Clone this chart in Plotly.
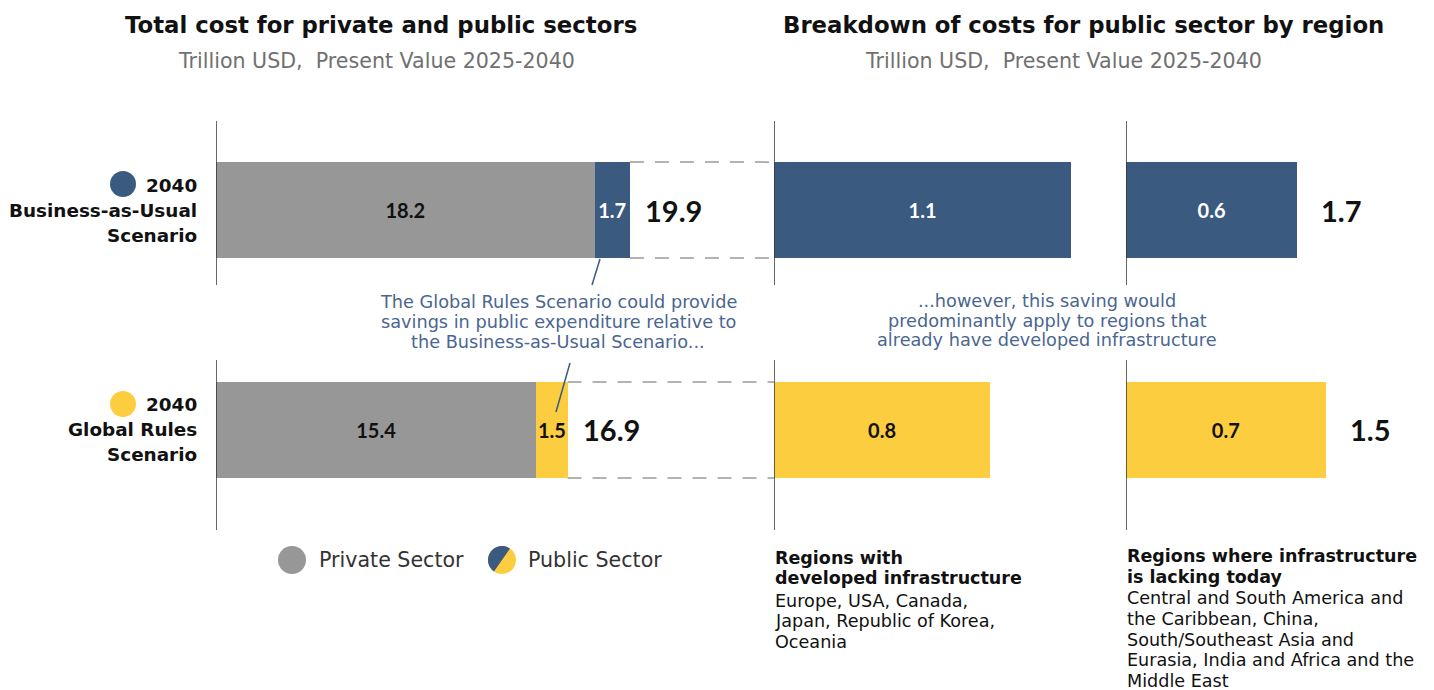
import numpy as np
import plotly.graph_objects as go

# ==========================================================
# Data (trillion USD, present value 2025-2040)
# ==========================================================

scenarios = ["Global Rules", "Business-as-Usual"]
scenario_labels = [
    ["2040", "Global Rules", "Scenario"],
    ["2040", "Business-as-Usual", "Scenario"],
]
private_sector = [15.4, 18.2]
public_sector = [1.5, 1.7]
public_developed = [0.8, 1.1]
public_lacking = [0.7, 0.6]

GRAY = "#979797"
NAVY = "#3A5A80"
YELLOW = "#FDCD40"
NOTE = "#4A6690"
scen_colors = [YELLOW, NAVY]
text_colors = ["#111111", "#FFFFFF"]

FONT = "DejaVu Sans"
NUM_FONT = "Lato"

# page is drawn with an 8px body margin, so the figure is placed at (8, 8)
OFF = 8
W, H = 1434 - OFF, 690 - OFF
TOP, BOT = 121 - OFF, 530 - OFF
BAR_W = 0.436

ypos = list(range(len(scenarios)))
totals = [round(a + b, 1) for a, b in zip(private_sector, public_sector)]
public_totals = [round(a + b, 1) for a, b in zip(public_developed, public_lacking)]


def fx(p):
    return (p - OFF) / W


def fy(p):
    return (BOT - (p - OFF)) / (BOT - TOP)


# panel geometry
dom1 = [fx(216), fx(774)]
dom2 = [fx(774), fx(1110)]
dom3 = [fx(1126), 1.0]
rng1 = [0, 558 / 20.8]
rng2 = [0, 336 / 270]
rng3 = [0, 308 / 285]
yrng = [-0.455, 1.405]


def x1_to_paper(v):
    return dom1[0] + (v - rng1[0]) / (rng1[1] - rng1[0]) * (dom1[1] - dom1[0])


fig = go.Figure()

# ==========================================================
# Bars
# ==========================================================

bar_font = dict(family=NUM_FONT, size=20)


def bar_trace(vals, colors, tcolors, xa):
    return go.Bar(
        x=vals,
        y=ypos,
        orientation="h",
        width=BAR_W,
        marker=dict(color=colors, line=dict(width=0)),
        texttemplate="<b>%{x:.1f}</b>",
        textposition="inside",
        insidetextanchor="middle",
        textangle=0,
        constraintext="none",
        textfont=dict(bar_font, color=tcolors),
        hoverinfo="skip",
        xaxis=xa,
        yaxis="y",
    )


fig.add_trace(bar_trace(private_sector, GRAY, "#111111", "x"))
fig.add_trace(bar_trace(public_sector, scen_colors, text_colors, "x"))
fig.add_trace(bar_trace(public_developed, scen_colors, text_colors, "x2"))
fig.add_trace(bar_trace(public_lacking, scen_colors, text_colors, "x3"))

# ==========================================================
# Axis lines and connectors
# ==========================================================

shapes = []

for xr in ["x", "x2", "x3"]:
    for y0, y1 in [(yrng[1], 1 - 75 / 220), (70 / 220, yrng[0])]:
        shapes.append(
            dict(
                type="line", xref=xr, yref="y",
                x0=0, x1=0, y0=y0, y1=y1,
                line=dict(color="#333333", width=1.5),
            )
        )

for i, t in enumerate(totals):
    for edge in [-BAR_W / 2, BAR_W / 2]:
        shapes.append(
            dict(
                type="line", xref="paper", yref="y",
                x0=x1_to_paper(t), x1=dom2[0],
                y0=ypos[i] + edge, y1=ypos[i] + edge,
                line=dict(color="#9A9A9A", width=1.5, dash="14px,11px"),
                layer="below",
            )
        )

# leader lines for the note
for (xa, ya), (xb, yb) in [((600, 259), (592, 285)), ((570, 363), (556, 412))]:
    shapes.append(
        dict(
            type="line", xref="paper", yref="paper",
            x0=fx(xa), x1=fx(xb), y0=fy(ya), y1=fy(yb),
            line=dict(color=NAVY, width=1.5),
        )
    )

# scenario dots next to y labels
for i, c in enumerate(scen_colors):
    shapes.append(
        dict(
            type="circle", xref="paper", yref="y",
            xsizemode="pixel", ysizemode="pixel",
            xanchor=fx(123), yanchor=ypos[i],
            x0=-13, x1=13, y0=13, y1=39,
            fillcolor=c, line=dict(width=0),
        )
    )

# legend glyphs
for cx, col in [(292, GRAY), (502, YELLOW)]:
    shapes.append(
        dict(
            type="circle", xref="paper", yref="paper",
            xsizemode="pixel", ysizemode="pixel",
            xanchor=fx(cx), yanchor=fy(560),
            x0=-14, x1=14, y0=-14, y1=14,
            fillcolor=col, line=dict(width=0),
        )
    )
ang = np.radians(np.linspace(55, 235, 40))
half = "M " + " L ".join(f"{14 * np.cos(a):.2f},{14 * np.sin(a):.2f}" for a in ang) + " Z"
shapes.append(
    dict(
        type="path", xref="paper", yref="paper",
        xsizemode="pixel", ysizemode="pixel",
        xanchor=fx(502), yanchor=fy(560),
        path=half, fillcolor=NAVY, line=dict(width=0),
    )
)

# ==========================================================
# Text
# ==========================================================

ann = []


def lines(x, y, rows, size, step=None, color="#111111", xanchor="center", bold=False):
    step = step or size * 1.3
    for k, s in enumerate(rows):
        ann.append(
            dict(
                x=fx(x), y=fy(y + k * step), xref="paper", yref="paper",
                text=f"<b>{s}</b>" if bold else s,
                showarrow=False, xanchor=xanchor, yanchor="middle",
                font=dict(family=FONT, size=size, color=color),
            )
        )


lines(381, 25, ["Total cost for private and public sectors"], 22.8, bold=True)
lines(376, 61, ["Trillion USD,&nbsp; Present Value 2025-2040"], 20.6, color="#707070")
lines(1083, 25, ["Breakdown of costs for public sector by region"], 22.8, bold=True)
lines(1063, 61, ["Trillion USD,&nbsp; Present Value 2025-2040"], 20.6, color="#707070")

lines(558, 302, [
    "The Global Rules Scenario could provide",
    "savings in public expenditure relative to",
    "the Business-as-Usual Scenario...",
], 17.7, step=20, color=NOTE)
lines(1047, 301, [
    "...however, this saving would",
    "predominantly apply to regions that",
    "already have developed infrastructure",
], 17.7, step=19.5, color=NOTE)

lines(317, 560, ["Private Sector"], 20.6, color="#333333", xanchor="left")
lines(526, 560, ["Public Sector"], 20.6, color="#333333", xanchor="left")

lines(773, 558, ["Regions with", "developed infrastructure"], 17.5, step=20, xanchor="left", bold=True)
lines(773, 601, ["Europe, USA, Canada,", "Japan, Republic of Korea,", "Oceania"],
      17.6, step=20.3, xanchor="left")
lines(1125, 556, ["Regions where infrastructure", "is lacking today"], 17.5, step=21,
      xanchor="left", bold=True)
lines(1125, 598, [
    "Central and South America and",
    "the Caribbean, China,",
    "South/Southeast Asia and",
    "Eurasia, India and Africa and the",
    "Middle East",
], 17.6, step=20.8, xanchor="left")

for i in ypos:
    for k, s in enumerate(scenario_labels[i]):
        ann.append(
            dict(
                x=fx(199), y=ypos[i], xref="paper", yref="y",
                text=f"<b>{s}</b>", showarrow=False,
                xanchor="right", yanchor="middle", yshift=(1 - k) * 25,
                font=dict(family=FONT, size=18.4, color="#111111"),
            )
        )
    ann.append(
        dict(
            x=totals[i], y=ypos[i], xref="x", yref="y",
            text=f"<b>{totals[i]:.1f}</b>", showarrow=False,
            xanchor="left", yanchor="middle", xshift=13,
            font=dict(family=NUM_FONT, size=29, color="#111111"),
        )
    )
    ann.append(
        dict(
            x=public_lacking[i], y=ypos[i], xref="x3", yref="y",
            text=f"<b>{public_totals[i]:.1f}</b>", showarrow=False,
            xanchor="left", yanchor="middle", xshift=22,
            font=dict(family=NUM_FONT, size=29, color="#111111"),
        )
    )

# ==========================================================
# Layout
# ==========================================================

hidden = dict(showgrid=False, zeroline=False, showticklabels=False, showline=False, fixedrange=True)

fig.update_layout(
    width=W,
    height=H,
    margin=dict(l=0, r=0, t=TOP, b=H - BOT),
    paper_bgcolor="white",
    plot_bgcolor="white",
    barmode="stack",
    showlegend=False,
    xaxis=dict(domain=dom1, range=rng1, anchor="y", **hidden),
    xaxis2=dict(domain=dom2, range=rng2, anchor="y", **hidden),
    xaxis3=dict(domain=dom3, range=rng3, anchor="y", **hidden),
    yaxis=dict(domain=[0, 1], range=yrng, **hidden),
    shapes=shapes,
    annotations=ann,
)

fig.write_html("out.html")
